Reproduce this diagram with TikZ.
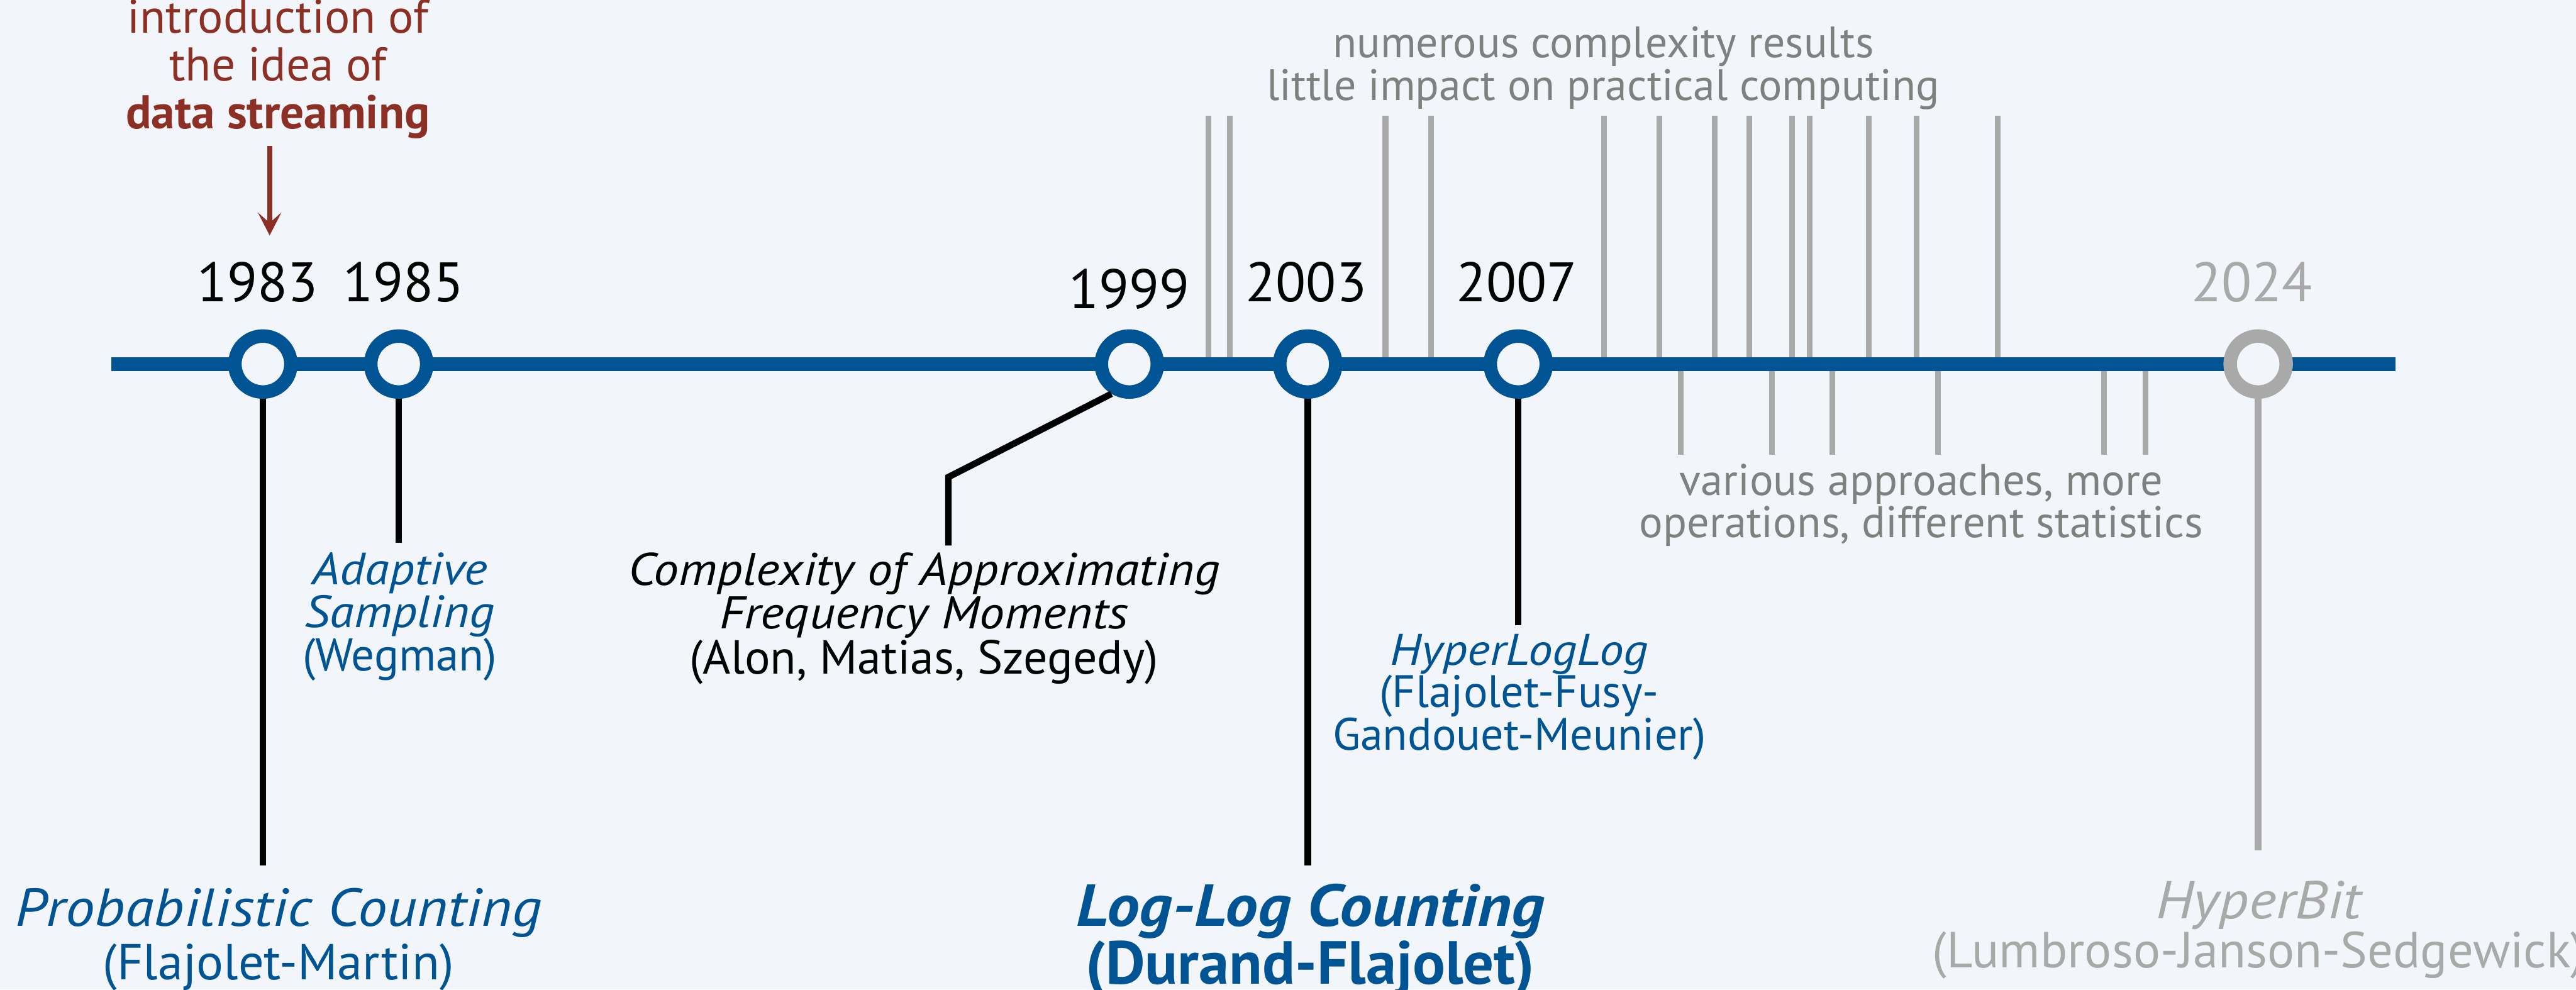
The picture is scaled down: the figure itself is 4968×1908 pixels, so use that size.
\documentclass[tikz,border=0pt]{standalone}
\usepackage{fontspec}
\setmainfont{PT Sans}[ItalicFeatures={FakeStretch=1.1},BoldItalicFeatures={FakeStretch=1.1}]
\usetikzlibrary{arrows.meta}
\definecolor{bgcol}{RGB}{242,246,250}
\definecolor{lineblue}{RGB}{0,84,147}
\definecolor{darkred}{RGB}{140,48,38}
\definecolor{tickgray}{RGB}{169,169,169}
\definecolor{textgray}{RGB}{128,128,128}
\tikzset{
  yr/.style={circle,draw=lineblue,line width=2.6mm,fill=bgcol,minimum size=10.8mm,inner sep=0pt},
  yeartxt/.style={anchor=base,inner sep=0pt,font=\fontsize{30.5}{30.5}\selectfont},
  stem/.style={line width=1.25mm,black},
  tick/.style={line width=1.1mm,tickgray},
  lbl/.style={anchor=base,align=center,inner sep=0pt},
}
\begin{document}
\begin{tikzpicture}[x=0.1mm,y=-0.1mm]
\fill[bgcol](0,0)rectangle(4968,1908);
\useasboundingbox(0,0)rectangle(4968,1908);
% results that did not change practice
\foreach \x in {2330,2372,2672,2760,3094,3200,3307,3374,3456,3490,3604,3696,3853}
  \draw[tick](\x,223)--(\x,692);
\foreach \x in {3241,3417,3534,3738,4058,4138}
  \draw[tick](\x,712)--(\x,877);
% the timeline
\coordinate(tlstart)at(215,702);
\coordinate(tlend)at(4620,702);
\draw[line width=2.7mm,lineblue](tlstart)--(tlend);
\node[yr](c83)at(507,702){};
\node[yr](c85)at(769,702){};
\node[yr](c99)at(2178,702){};
\node[yr](c03)at(2522,702){};
\node[yr](c07)at(2928,702){};
\node[yr,draw=tickgray](c24)at(4355,702){};
\node[yeartxt](y83)at(497,582){1983};
\node[yeartxt](y85)at(778,582){1985};
\node[yeartxt](y99)at(2178,595){1999};
\node[yeartxt](y03)at(2519,582){2003};
\node[yeartxt](y07)at(2925,582){2007};
\node[yeartxt,text=tickgray](y24)at(4343,582){2024};
% data streaming
\node[lbl,text=darkred,font=\fontsize{26}{26.2}\selectfont](intro)at(536,248)
  {introduction of\\the idea of\\\textbf{data streaming}};
\coordinate(a0)at(520,281);
\coordinate(a1)at(520,454);
\draw[-{Stealth[length=4.4mm,width=4.5mm,inset=2mm]},line width=1mm,darkred](a0)--(a1);
% papers
\node[lbl,text=lineblue,font=\fontsize{27.7}{29.3}\selectfont](pc)at(537,1889)
  {{\fontsize{29.3}{29.3}\selectfont\itshape Probabilistic Counting}\\(Flajolet-Martin)};
\node[lbl,text=lineblue,font=\fontsize{25.2}{23.6}\selectfont](as)at(771,1293)
  {{\fontsize{24.8}{23.6}\selectfont\itshape Adaptive}\\{\fontsize{24.8}{23.6}\selectfont\itshape Sampling}\\(Wegman)};
\node[lbl,font=\fontsize{26.2}{22.8}\selectfont](ams)at(1782,1300)
  {{\fontsize{25.1}{22.8}\selectfont\itshape Complexity of Approximating}\\{\fontsize{25.1}{22.8}\selectfont\itshape Frequency Moments}\\(Alon, Matias, Szegedy)};
\node[lbl,text=lineblue,font=\bfseries\fontsize{33.4}{29.3}\selectfont](ll)at(2527,1897)
  {{\fontsize{32.5}{29.3}\selectfont\itshape Log-Log Counting}\\(Durand-Flajolet)};
\node[lbl,text=lineblue,font=\fontsize{24.9}{23.3}\selectfont](hll)at(2930,1446)
  {{\fontsize{24.3}{23.3}\selectfont\itshape HyperLogLog}\\(Flajolet-Fusy-\\Gandouet-Meunier)};
\node[lbl,text=tickgray,font=\fontsize{27.8}{26.8}\selectfont](hb)at(4356,1866)
  {{\fontsize{29.2}{26.8}\selectfont\itshape HyperBit}\\(Lumbroso-Janson-Sedgewick)};
\node[lbl,text=textgray,font=\fontsize{24.1}{23.3}\selectfont](theory)at(3092,193)
  {numerous complexity results\\little impact on practical computing};
\node[lbl,text=textgray,font=\fontsize{24.3}{21.6}\selectfont](variants)at(3705,1036)
  {various approaches, more\\operations, different statistics};
% stems
\coordinate(e83)at(507,1669);
\coordinate(e85)at(769,1047);
\coordinate(k99)at(1829,920);
\coordinate(e99)at(1829,1052);
\coordinate(e03)at(2522,1669);
\coordinate(e07)at(2928,1206);
\coordinate(e24)at(4355,1640);
\draw[stem](c83.south)--(e83);
\draw[stem](c85.south)--(e85);
\draw[stem](c99.-121)--(k99)--(e99);
\draw[stem](c03.south)--(e03);
\draw[stem](c07.south)--(e07);
\draw[stem,tickgray](c24.south)--(e24);
\end{tikzpicture}
\end{document}
